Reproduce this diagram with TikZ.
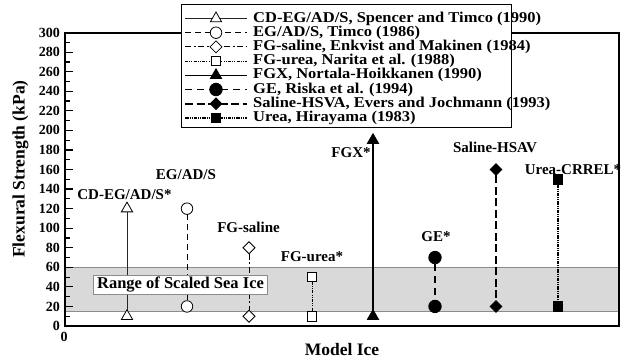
\documentclass[tikz,border=0pt]{standalone}
\usepackage{fontspec}
\setmainfont{Liberation Serif}
\usetikzlibrary{shapes.geometric}
\definecolor{bandfill}{HTML}{D9D9D9}
\definecolor{bandline}{HTML}{8C8C8C}
\newcommand{\legwide}[1]{\scalebox{1.1}[1]{#1}}
\begin{document}
\begin{tikzpicture}[x=1pt,y=-1pt,
  lab/.style={font=\bfseries\fontsize{15}{17}\selectfont, inner sep=0pt},
  ticklab/.style={font=\bfseries\fontsize{14}{16}\selectfont, anchor=east, inner sep=0pt},
  legtext/.style={font=\bfseries\fontsize{15}{16}\selectfont, anchor=west, inner sep=0pt},
  mk/.style={draw=black, line width=0.8pt, inner sep=0pt, outer sep=0pt},
  otri/.style={mk, regular polygon, regular polygon sides=3, minimum size=13pt, fill=white},
  ftri/.style={mk, regular polygon, regular polygon sides=3, minimum size=13pt, fill=black},
  ocirc/.style={mk, circle, minimum size=11.5pt, fill=white},
  fcirc/.style={mk, circle, minimum size=12.5pt, fill=black},
  odia/.style={mk, diamond, minimum size=12pt, fill=white},
  fdia/.style={mk, diamond, minimum size=11.5pt, fill=black},
  osq/.style={mk, rectangle, minimum size=9.5pt, fill=white},
  fsq/.style={mk, rectangle, minimum size=9.5pt, fill=black},
  sA/.style={line width=0.9pt, black!85},
  sB/.style={line width=1pt, dash pattern=on 6pt off 4pt},
  sC/.style={line width=1pt, dash pattern=on 6pt off 2.5pt on 2pt off 2.5pt},
  sD/.style={line width=0.9pt, dash pattern=on 3pt off 1.2pt on 1pt off 1.2pt on 1pt off 1.2pt},
  sE/.style={line width=1.3pt},
  sF/.style={line width=1.5pt, dash pattern=on 7pt off 5pt},
  sG/.style={line width=1.8pt, dash pattern=on 8pt off 3.5pt},
  sH/.style={line width=1.4pt, dash pattern=on 3.5pt off 1pt on 1pt off 1pt on 1pt off 1pt},
]
\useasboundingbox (0,0) rectangle (629,360);

% ---------- data coordinate system ----------
\begin{scope}[shift={(0,326)}, y=0.978pt]
  \fill[bandfill] (65,15) rectangle (619,60);
  \draw[bandline, line width=0.8pt] (65,60) -- (619,60) (65,15) -- (619,15);
  \foreach \v in {20,40,...,280} \draw[line width=1.2pt] (65,\v) -- ++(8,0);
  \foreach \v in {10,30,...,290} \draw[line width=1.2pt] (65,\v) -- ++(5,0);
  \foreach \v in {0,20,...,300} \node[ticklab] at (60,\v) {\v};

  % markers
  \node[otri]  (a1) at (127,120) {};  \node[otri]  (a2) at (127,10) {};
  \node[ocirc] (b1) at (187,120) {};  \node[ocirc] (b2) at (187,20) {};
  \node[odia]  (c1) at (249,80) {};   \node[odia]  (c2) at (249,10) {};
  \node[osq]   (d1) at (312,50) {};   \node[osq]   (d2) at (312,10) {};
  \node[ftri]  (e1) at (373,190) {};  \node[ftri]  (e2) at (373,10) {};
  \node[fcirc] (f1) at (435,70) {};   \node[fcirc] (f2) at (435,20) {};
  \node[fdia]  (g1) at (496,160) {};  \node[fdia]  (g2) at (496,20) {};
  \node[fsq]   (h1) at (558,150) {};  \node[fsq]   (h2) at (558,20) {};
\end{scope}

% connectors
\draw[sA] (a1) -- (a2);
\draw[sB] (b1) -- (b2);
\draw[sC] (c1) -- (c2);
\draw[sD] (d1) -- (d2);
\draw[sE] (e1) -- (e2);
\draw[sF] (f1) -- (f2);
\draw[sG] (g1) -- (g2);
\draw[sH] (h1) -- (h2);

% frame
\draw[line width=1.8pt] (65,32.6) rectangle (619,326);

% data labels
\node[lab] (la) at (124.5,195) {CD-EG/AD/S*};
\node[lab] (lb) at (186,175) {EG/AD/S};
\node[lab] (lc) at (248.5,227) {FG-saline};
\node[lab] (ld) at (312,257) {FG-urea*};
\node[lab] (le) at (351,153) {FGX*};
\node[lab] (lf) at (436,237) {GE*};
\node[lab] (lg) at (495,147) {Saline-HSAV};
\node[lab] (lh) at (573,170) {Urea-CRREL*};

\node[draw=bandline, fill=white, line width=0.6pt, inner xsep=3.5pt, inner ysep=2pt,
      font=\bfseries\fontsize{16.5}{18}\selectfont] (range) at (180.5,285) {Range of Scaled Sea Ice};

% axis titles
\node[rotate=90, font=\bfseries\fontsize{17.5}{20}\selectfont] (ytitle) at (20.5,169) {Flexural Strength (kPa)};
\node[font=\bfseries\fontsize{17.5}{20}\selectfont] (xtitle) at (342,350) {Model Ice};
\node[font=\bfseries\fontsize{14}{16}\selectfont, inner sep=0pt] (xzero) at (64,337) {0};

% legend
\node[draw, fill=white, line width=1pt, minimum width=330pt, minimum height=123pt,
      anchor=north west, inner sep=0pt] (legend) at (181,4) {};
\foreach \i/\st/\m/\t in {
  1/sA/otri/{CD-EG/AD/S, Spencer and Timco (1990)},
  2/sB/ocirc/{EG/AD/S, Timco (1986)},
  3/sC/odia/{FG-saline, Enkvist and Makinen (1984)},
  4/sD/osq/{FG-urea, Narita et al. (1988)},
  5/sE/ftri/{FGX, Nortala-Hoikkanen (1990)},
  6/sF/fcirc/{GE, Riska et al. (1994)},
  7/sG/fdia/{Saline-HSVA, Evers and Jochmann (1993)},
  8/sH/fsq/{Urea, Hirayama (1983)}}{
  \pgfmathsetmacro\yy{18.5+14.2*(\i-1)}
  \coordinate (lgA\i) at (185,\yy);
  \coordinate (lgB\i) at (247,\yy);
  \draw[\st] (lgA\i) -- (lgB\i);
  \node[\m] (lgM\i) at (216,\yy) {};
  \node[legtext] (lgT\i) at (253,\yy) {\legwide{\t}};
}
\end{tikzpicture}
\end{document}
